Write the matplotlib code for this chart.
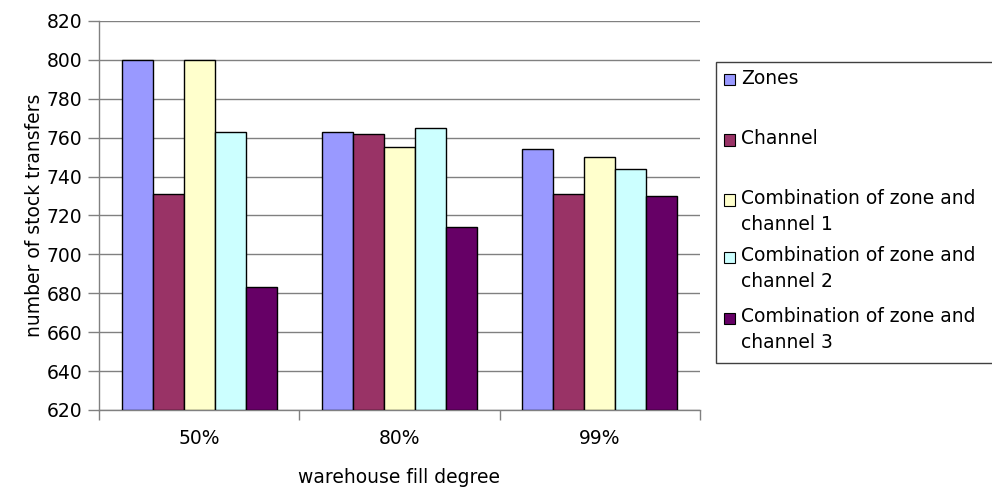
import matplotlib
matplotlib.use("Agg")
import matplotlib.pyplot as plt
import numpy as np
from matplotlib.patches import Rectangle

plt.rcParams['font.family'] = ['DejaVu Sans']

categories = ["50%", "80%", "99%"]
series_names = [
    "Zones",
    "Channel",
    "Combination of zone and\nchannel 1",
    "Combination of zone and\nchannel 2",
    "Combination of zone and\nchannel 3",
]
zones = [800, 763, 754]
channel = [731, 762, 731]
combo1 = [800, 755, 750]
combo2 = [763, 765, 744]
combo3 = [683, 714, 730]
series_values = [zones, channel, combo1, combo2, combo3]
colors = ["#9999FF", "#993366", "#FFFFCC", "#CCFFFF", "#660066"]
yticks = list(range(620, 821, 20))

FS = 13.5

fig = plt.figure(figsize=(9.92, 4.88), dpi=100)
ax = fig.add_axes([0.0998, 0.160, 0.6058, 0.797])

n = len(series_names)
bar_w = 0.155
x = np.arange(len(categories))
for i, (vals, col) in enumerate(zip(series_values, colors)):
    offs = (i - (n - 1) / 2) * bar_w
    ax.bar(x + offs, np.array(vals) - 620, bottom=620, width=bar_w,
           color=col, edgecolor="black", linewidth=1.0, zorder=3)

ax.set_xlim(-0.5, len(categories) - 0.5)
ax.set_ylim(620, 820)
ax.set_yticks(yticks)
ax.yaxis.grid(True, color="#808080", linewidth=1.0, zorder=0)
ax.set_axisbelow(True)

# category labels between boundary ticks
ax.set_xticks(np.arange(-0.5, len(categories), 1.0))
ax.set_xticklabels([])
ax.set_xticks(x, minor=True)
ax.set_xticklabels(categories, minor=True, fontsize=FS)
ax.tick_params(axis="x", which="minor", length=0, pad=14)
ax.tick_params(axis="x", which="major", length=7, width=1, color="#808080", direction="out")
ax.tick_params(axis="y", length=8, width=1, color="#808080", direction="out", labelsize=FS, pad=4)

for s in ["top", "right"]:
    ax.spines[s].set_visible(False)
for s in ["left", "bottom"]:
    ax.spines[s].set_color("#808080")
    ax.spines[s].set_linewidth(1.0)

ax.set_xlabel("warehouse fill degree", fontsize=FS, labelpad=14)
ax.set_ylabel("number of stock transfers", fontsize=FS, labelpad=2)

# legend box drawn in figure pixels (open on the right side)
W, H = 992, 488
def fx(px):
    return px / W
def fy(py):
    return 1 - py / H

box = Rectangle((fx(716), fy(363)), fx(1010) - fx(716), fy(62) - fy(363),
                transform=fig.transFigure, facecolor="white",
                edgecolor="#404040", linewidth=1.0, clip_on=False)
fig.patches.append(box)
entry_y = [80, 140, 200, 257, 318]
for name, col, ey in zip(series_names, colors, entry_y):
    sq = 11
    fig.patches.append(Rectangle((fx(724), fy(ey + sq / 2)), fx(sq), sq / H,
                                 transform=fig.transFigure, facecolor=col,
                                 edgecolor="black", linewidth=0.8))
    fig.text(fx(741), fy(ey - 11), name, fontsize=FS, va="top", ha="left",
             linespacing=1.45)

fig.savefig("out.png", dpi=100)
